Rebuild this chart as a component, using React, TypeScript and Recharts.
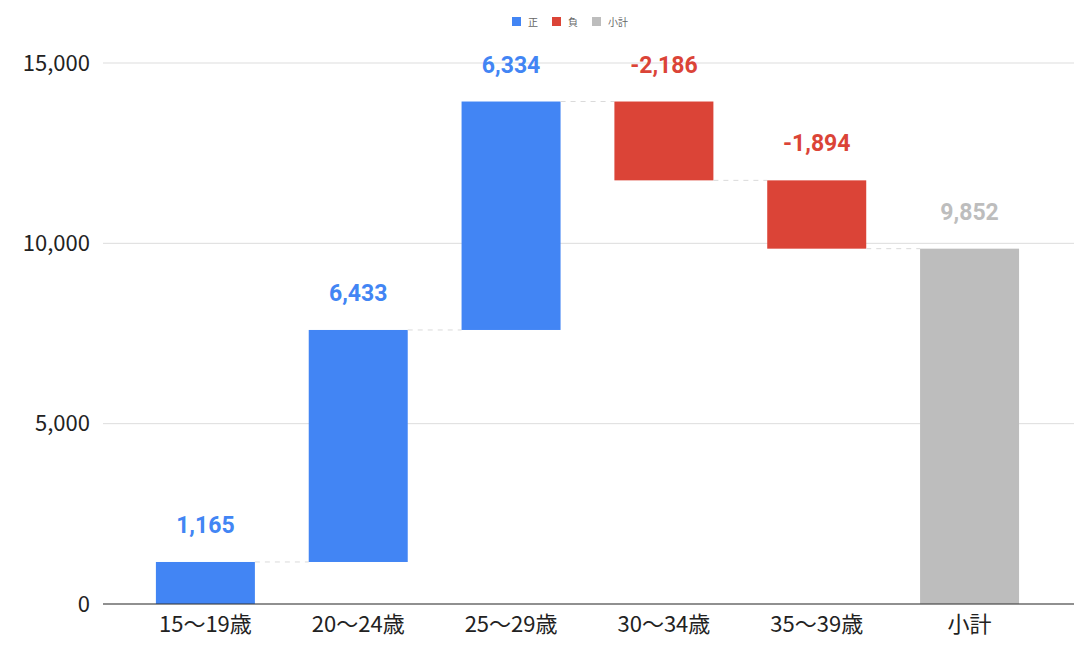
import React from "react"
import { BarChart, Bar, XAxis, YAxis, CartesianGrid, Legend } from "recharts"

const categories = ["15～19歳", "20～24歳", "25～29歳", "30～34歳", "35～39歳"]
const changes = [1165, 6433, 6334, -2186, -1894]
const subtotalLabel = "小計"
const yTicks = [0, 5000, 10000, 15000]

const BLUE = "#4285F4"
const RED = "#DB4437"
const GRAY = "#BDBDBD"
const FONT = "Roboto, 'Noto Sans CJK JP', sans-serif"
const AXIS_FONT = "'Noto Sans CJK JP', 'Noto Sans', sans-serif"

const W = 1090
const H = 657
const MARGIN = { top: 8, right: 16, bottom: 0, left: 0 }
const Y_WIDTH = 103
const PAD = { left: 26, right: 28 }

type Row = { name: string; base: number; pos: number; neg: number; total: number; label: number }

const buildRows = (): Row[] => {
    let run = 0
    const rows: Row[] = categories.map((name, i) => {
        const v = changes[i]
        const start = run
        run += v
        return {
            name,
            base: v >= 0 ? start : run,
            pos: v >= 0 ? v : 0,
            neg: v < 0 ? -v : 0,
            total: 0,
            label: v,
        }
    })
    rows.push({ name: subtotalLabel, base: 0, pos: 0, neg: 0, total: run, label: run })
    return rows
}

const rows = buildRows()
const plotWidth = W - MARGIN.left - MARGIN.right - Y_WIDTH
const band = (plotWidth - PAD.left - PAD.right) / rows.length

const fmt = (n: number) => n.toLocaleString("en-US")

const makeShape = (color: string, kind: "pos" | "neg" | "total") => (props: any) => {
    const { x, y, width, height, index } = props
    if (!height || height <= 0) return <g />
    const row = rows[index]
    const level = kind === "neg" ? y + height : y
    const isLast = index === rows.length - 1
    return (
        <g>
            <rect x={x} y={y} width={width} height={height} fill={color} />
            {!isLast && (
                <line
                    x1={x + width}
                    x2={x + band}
                    y1={level}
                    y2={level}
                    stroke="#dadada"
                    strokeDasharray="5 5"
                    strokeWidth={1}
                />
            )}
            <text
                x={x + width / 2}
                y={y - 29}
                textAnchor="middle"
                fill={color}
                fontSize={23}
                fontWeight="bold"
                fontFamily={FONT}
            >
                {fmt(row.label)}
            </text>
        </g>
    )
}

const legendItems = [
    { label: "正", color: BLUE },
    { label: "負", color: RED },
    { label: "小計", color: GRAY },
]

const WaterfallLegend = () => (
    <div style={{ height: 55, display: "flex", justifyContent: "center", paddingLeft: 80, fontFamily: FONT }}>
        {legendItems.map((it) => (
            <div key={it.label} style={{ display: "flex", alignItems: "center", marginRight: 14, height: 26 }}>
                <span style={{ width: 9, height: 9, background: it.color, display: "inline-block", marginRight: 7 }} />
                <span style={{ fontSize: 10, color: "#666" }}>{it.label}</span>
            </div>
        ))}
    </div>
)

const App = () => {
    return (
        <div style={{ position: "absolute", left: 0, top: 0, background: "#fff" }}>
            <BarChart width={W} height={H} data={rows} margin={MARGIN} barCategoryGap="17.6%">
                <Legend verticalAlign="top" content={() => <WaterfallLegend />} />
                <CartesianGrid vertical={false} stroke="#dddddd" />
                <XAxis
                    dataKey="name"
                    padding={PAD}
                    tickLine={false}
                    axisLine={{ stroke: "#333" }}
                    tickMargin={6}
                    height={53}
                    tick={{ fontSize: 22, fill: "#222", fontFamily: AXIS_FONT }}
                />
                <YAxis
                    width={Y_WIDTH}
                    domain={[0, 15000]}
                    ticks={yTicks}
                    tickFormatter={fmt}
                    axisLine={false}
                    tickLine={false}
                    tickMargin={7}
                    tick={{ fontSize: 22, fill: "#222", fontFamily: AXIS_FONT }}
                />
                <Bar dataKey="base" stackId="s" fill="transparent" isAnimationActive={false} legendType="none" />
                <Bar dataKey="pos" stackId="s" fill={BLUE} shape={makeShape(BLUE, "pos")} isAnimationActive={false} />
                <Bar dataKey="neg" stackId="s" fill={RED} shape={makeShape(RED, "neg")} isAnimationActive={false} />
                <Bar dataKey="total" stackId="s" fill={GRAY} shape={makeShape(GRAY, "total")} isAnimationActive={false} />
            </BarChart>
        </div>
    )
}

export default App
